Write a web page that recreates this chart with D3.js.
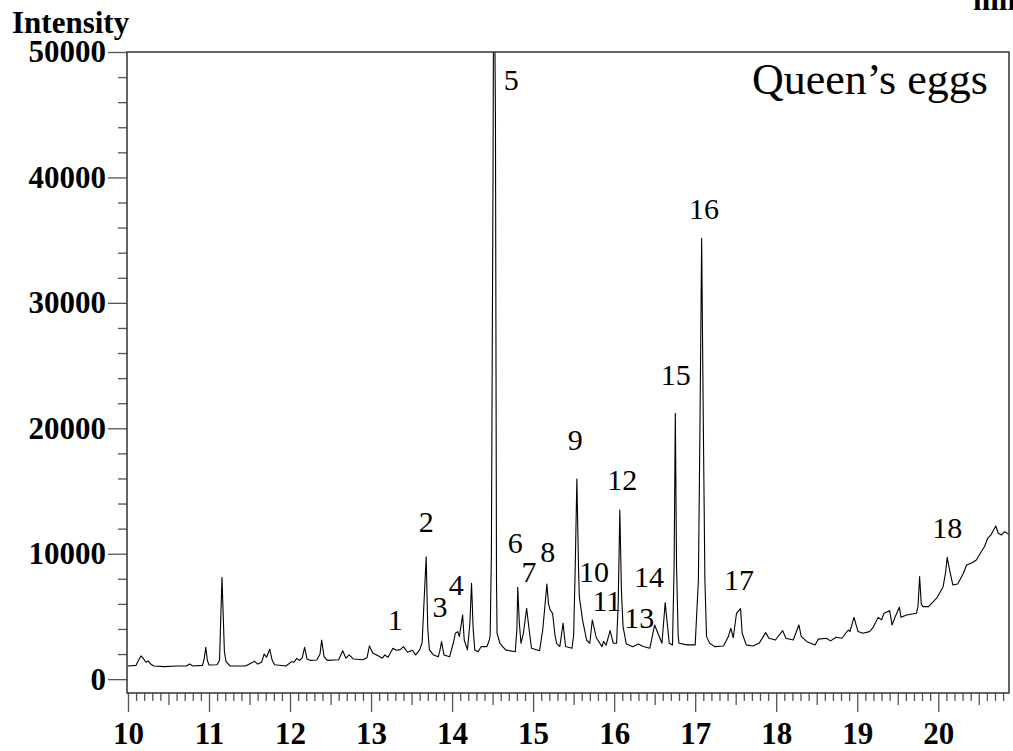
<!DOCTYPE html>
<html>
<head>
<meta charset="utf-8">
<script src="https://cdn.jsdelivr.net/npm/d3@7"></script>
<style>
  body { margin: 0; background: #fff; }
  svg { display: block; }
  text { font-family: "Liberation Serif", "Times New Roman", serif; }
</style>
</head>
<body>
<svg id="chrom" width="1013" height="751"></svg>
<script>
// retention time (min) and intensity
let rt = [
  10.00, 10.10, 10.13, 10.16, 10.20, 10.22, 10.25, 10.28, 10.32, 10.45, 10.60, 10.72, 10.76, 10.80,
  10.92, 10.94, 10.96, 10.98, 11.00, 11.10, 11.13, 11.16, 11.19, 11.21, 11.26, 11.45, 11.53, 11.56,
  11.60, 11.65, 11.68, 11.71, 11.75, 11.78, 11.81, 11.95, 12.02, 12.05, 12.08, 12.12, 12.15, 12.18,
  12.21, 12.25, 12.33, 12.37, 12.39, 12.42, 12.46, 12.60, 12.65, 12.69, 12.73, 12.78, 12.90, 12.95,
  12.98, 13.02, 13.07, 13.14, 13.17, 13.21, 13.27, 13.31, 13.36, 13.40, 13.45, 13.51, 13.55, 13.60,
  13.63, 13.68, 13.70, 13.72, 13.77, 13.83, 13.85, 13.87, 13.90, 13.97, 14.02, 14.04, 14.07, 14.09,
  14.13, 14.15, 14.19, 14.22, 14.24, 14.26, 14.28, 14.32, 14.36, 14.43, 14.46, 14.47, 14.485, 14.505,
  14.515, 14.535, 14.548, 14.555, 14.59, 14.66, 14.78, 14.80, 14.81, 14.83, 14.85, 14.88, 14.92, 14.95,
  14.98, 15.08, 15.12, 15.17, 15.19, 15.21, 15.24, 15.27, 15.29, 15.33, 15.37, 15.40, 15.48, 15.50,
  15.52, 15.54, 15.56, 15.57, 15.61, 15.66, 15.70, 15.73, 15.78, 15.85, 15.87, 15.90, 15.95, 15.99,
  16.03, 16.05, 16.07, 16.09, 16.11, 16.15, 16.23, 16.30, 16.36, 16.44, 16.50, 16.54, 16.59, 16.63,
  16.68, 16.72, 16.74, 16.755, 16.77, 16.79, 16.80, 16.90, 17.00, 17.04, 17.06, 17.08, 17.10, 17.12,
  17.14, 17.18, 17.24, 17.35, 17.41, 17.44, 17.47, 17.51, 17.56, 17.58, 17.63, 17.71, 17.79, 17.87,
  17.91, 17.99, 18.08, 18.12, 18.21, 18.28, 18.31, 18.38, 18.48, 18.52, 18.62, 18.67, 18.74, 18.81,
  18.89, 18.91, 18.96, 19.01, 19.07, 19.15, 19.19, 19.26, 19.30, 19.33, 19.40, 19.43, 19.47, 19.52,
  19.54, 19.61, 19.73, 19.75, 19.77, 19.79, 19.81, 19.88, 19.98, 20.06, 20.09, 20.11, 20.14, 20.18,
  20.24, 20.31, 20.35, 20.42, 20.47, 20.53, 20.57, 20.61, 20.65, 20.71, 20.74, 20.78, 20.82, 20.88
];
let intensity = [
  1050, 1100, 1500, 1850, 1550, 1350, 1450, 1200, 1050, 1000, 1050, 1050, 1200, 1050,
  1100, 1600, 2540, 1500, 1130, 1150, 1500, 8120, 2200, 1400, 1050, 1050, 1300, 1430,
  1200, 1350, 2000, 1750, 2380, 1500, 1150, 1050, 1400, 1350, 1640, 1500, 1700, 2540,
  1600, 1500, 1530, 2000, 3120, 1800, 1500, 1550, 2270, 1670, 1930, 1610, 1550, 1700,
  2650, 2090, 1930, 1670, 1930, 1750, 2460, 2300, 2350, 2590, 2140, 2300, 1930, 2330,
  2900, 9760, 4000, 2330, 1930, 1790, 2300, 2990, 1930, 1790, 3000, 3660, 3790, 3390,
  5120, 3120, 2330, 4500, 7640, 4000, 2330, 2190, 2600, 2590, 3120, 3500, 10000, 40000,
  62000, 45000, 8000, 3660, 2860, 2330, 2190, 4000, 7320, 4500, 2860, 3660, 5650, 4000,
  2460, 2270, 4000, 7590, 6000, 5520, 5250, 3500, 2860, 2600, 4460, 2600, 2460, 3500,
  9000, 15960, 9000, 6580, 4720, 3120, 2860, 4720, 3300, 2590, 3000, 2700, 3870, 2860,
  2860, 6000, 13490, 7000, 4190, 2800, 2590, 2810, 2600, 2460, 4320, 3660, 2860, 6100,
  2860, 2730, 9000, 21190, 9000, 3500, 2860, 2730, 2730, 7900, 20700, 35140, 20700, 7900,
  3390, 2860, 2590, 2640, 3390, 4060, 3300, 5250, 5620, 3660, 2730, 2640, 2860, 3710,
  3260, 3120, 3870, 3260, 3120, 4320, 3390, 2990, 2730, 3190, 3260, 3050, 3340, 3260,
  3920, 3790, 4930, 3790, 3660, 3790, 4060, 4930, 4720, 5250, 5460, 4320, 5000, 5730,
  4930, 5120, 5250, 5800, 8170, 6000, 5780, 5780, 6450, 7370, 8500, 9710, 8700, 7510,
  7580, 8440, 9100, 9280, 9500, 10160, 10560, 11230, 11500, 12210, 11630, 11500, 11760, 11490
];

// peak numbers and where their labels sit (time, intensity of baseline)
let peakIds = ["1", "2", "3", "4", "5", "6", "7", "8", "9", "10", "11", "12", "13", "14", "15", "16", "17", "18"];
let labelTime = [13.30, 13.68, 13.85, 14.05, 14.73, 14.78, 14.95, 15.18, 15.52, 15.75, 15.91, 16.10, 16.31, 16.43, 16.76, 17.11, 17.54, 20.11];
let labelInt = [3920, 11730, 4960, 6710, 46960, 10060, 7750, 9340, 18270, 7750, 5400, 15080, 4080, 7350, 23450, 36680, 7110, 11250];

let yMajor = [0, 10000, 20000, 30000, 40000, 50000];
let xMajor = [10, 11, 12, 13, 14, 15, 16, 17, 18, 19, 20];

let svg = d3.select("#chrom");
let pLeft = 127, pRight = 1009, pTop = 52, pBottom = 693;

let x = d3.scaleLinear().domain([9.988, 20.873]).range([pLeft, pRight]);
let y = d3.scaleLinear().domain([-1105, 50000]).range([pBottom, pTop]);

svg.append("rect").attr("width", 1013).attr("height", 751).attr("fill", "#fff");

svg.append("defs").append("clipPath").attr("id", "plotclip")
  .append("rect").attr("x", pLeft).attr("y", pTop).attr("width", pRight - pLeft).attr("height", pBottom - pTop);

// y ticks
let yMinor = d3.range(0, 50001, 2000).filter(v => v % 10000 !== 0);
svg.append("g").attr("transform", `translate(${pLeft},0)`)
  .call(d3.axisLeft(y).tickValues(yMinor).tickSize(9).tickFormat(""))
  .call(g => g.select(".domain").remove());
svg.append("g").attr("class", "yaxis").attr("transform", `translate(${pLeft},0)`)
  .call(d3.axisLeft(y).tickValues(yMajor).tickSize(19).tickPadding(2).tickFormat(d3.format("d")))
  .call(g => g.select(".domain").remove());

// x ticks
let xMinor = d3.range(100, 209, 1).map(v => v / 10).filter(v => Math.round(v * 10) % 5 !== 0);
let xHalf = d3.range(10.5, 20.9, 1);
svg.append("g").attr("transform", `translate(0,${pBottom})`)
  .call(d3.axisBottom(x).tickValues(xMinor).tickSize(8).tickFormat(""))
  .call(g => g.select(".domain").remove());
svg.append("g").attr("transform", `translate(0,${pBottom})`)
  .call(d3.axisBottom(x).tickValues(xHalf).tickSize(12).tickFormat(""))
  .call(g => g.select(".domain").remove());
svg.append("g").attr("class", "xaxis").attr("transform", `translate(0,${pBottom})`)
  .call(d3.axisBottom(x).tickValues(xMajor).tickSize(19).tickPadding(10).tickFormat(d3.format("d")))
  .call(g => g.select(".domain").remove());

svg.selectAll(".tick line").attr("stroke", "#555").attr("stroke-width", 1.3);
svg.selectAll(".yaxis text, .xaxis text")
  .attr("fill", "#000")
  .style("font-family", "'Liberation Serif', 'Times New Roman', serif")
  .style("font-size", "31px")
  .style("font-weight", "bold");

// trace
let pts = rt.map((t, i) => [t, intensity[i]]);
let line = d3.line().x(d => x(d[0])).y(d => y(d[1]));
svg.append("path")
  .datum(pts)
  .attr("clip-path", "url(#plotclip)")
  .attr("d", line)
  .attr("fill", "none")
  .attr("stroke", "#000")
  .attr("stroke-width", 1.1)
  .attr("stroke-linejoin", "round");

// frame
svg.append("rect")
  .attr("x", pLeft).attr("y", pTop)
  .attr("width", pRight - pLeft).attr("height", pBottom - pTop)
  .attr("fill", "none").attr("stroke", "#333").attr("stroke-width", 1.5);

// peak labels
svg.append("g").selectAll("text")
  .data(peakIds)
  .join("text")
  .attr("x", (d, i) => x(labelTime[i]))
  .attr("y", (d, i) => y(labelInt[i]))
  .attr("text-anchor", "middle")
  .style("font-size", "30px")
  .text(d => d);

svg.append("text")
  .attr("x", 752).attr("y", 94)
  .style("font-size", "44px")
  .text("Queen\u2019s eggs");

svg.append("text")
  .attr("x", 12).attr("y", 33)
  .style("font-size", "31px").style("font-weight", "bold")
  .text("Intensity");

svg.append("text")
  .attr("x", 973).attr("y", 10)
  .style("font-size", "31px").style("font-weight", "bold")
  .text("min");
</script>
</body>
</html>
